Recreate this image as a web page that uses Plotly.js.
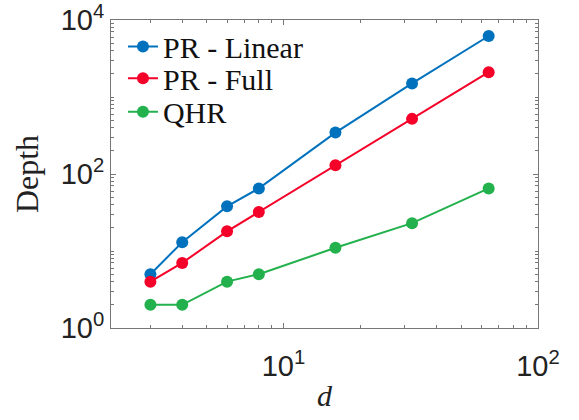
<!DOCTYPE html>
<html>
<head>
<meta charset="utf-8">
<script src="https://cdn.plot.ly/plotly-3.0.1.min.js"></script>
<style>html,body{margin:0;padding:0;background:#fff;} #chart{width:579px;height:420px;}</style>
</head>
<body>
<div id="chart"></div>
<script>
const dims = [3, 4, 6, 8, 16, 32, 64];
const prLinear = [5, 13, 38, 65, 345, 1500, 6200];
const prFull = [4, 7, 18, 32, 130, 520, 2100];
const qhr = [2, 2, 4, 5, 11, 23, 65];
const seriesNames = ['PR - Linear', 'PR - Full', 'QHR'];
const seriesColors = ['rgb(0,114,189)', 'rgb(245,0,40)', 'rgb(34,177,76)'];
const xTickVals = [10, 100];
const xTickText = ['10<sup>1</sup>', '10<sup>2</sup>'];
const yTickVals = [1, 100, 10000];
const yTickText = ['10<sup>0</sup>', '10<sup>2</sup>', '10<sup>4</sup>'];
const xMinor = [3, 4, 5, 6, 7, 8, 9, 20, 30, 40, 50, 60, 70, 80, 90];
const yMinor = [2,3,4,5,6,7,8,9,10,20,30,40,50,60,70,80,90,200,300,400,500,600,700,800,900,1000,2000,3000,4000,5000,6000,7000,8000,9000];

const serif = '"Liberation Serif", "Times New Roman", serif';
const sans = '"Liberation Sans", Arial, sans-serif';
const legendIds = ['legend', 'legend2', 'legend3'];
const legendRowY = [0.914, 0.811, 0.702];

const allY = [prLinear, prFull, qhr];
const traces = allY.map((ys, i) => ({
  x: dims, y: ys, name: seriesNames[i], type: 'scatter', mode: 'lines+markers',
  legend: legendIds[i],
  line: {color: seriesColors[i], width: 2},
  marker: {color: seriesColors[i], size: 12}
}));

const axisCommon = {
  type: 'log', showgrid: false, zeroline: false, showline: true, linecolor: '#777', linewidth: 1,
  mirror: 'ticks', ticks: 'inside', ticklen: 5, tickcolor: '#777', tickwidth: 1,
  ticklabeloverflow: 'allow',
  tickfont: {family: sans, size: 29, color: '#222'}
};

const layout = {
  width: 579, height: 420,
  margin: {l: 111, r: 41, t: 20, b: 92},
  paper_bgcolor: '#fff', plot_bgcolor: '#fff',
  showlegend: true,
  xaxis: Object.assign({}, axisCommon, {
    range: [Math.log10(2.1), 2], tickmode: 'array', tickvals: xTickVals, ticktext: xTickText,
    ticklabelstandoff: 12,
    minor: {tickmode: 'array', tickvals: xMinor, ticks: 'inside', ticklen: 3, tickcolor: '#777'},
    title: {text: 'd', font: {family: serif, size: 30, color: '#222', style: 'italic'}, standoff: 4}
  }),
  yaxis: Object.assign({}, axisCommon, {
    range: [0, 4], tickmode: 'array', tickvals: yTickVals, ticktext: yTickText,
    minor: {tickmode: 'array', tickvals: yMinor, ticks: 'inside', ticklen: 3, tickcolor: '#777'},
    title: {text: 'Depth', font: {family: serif, size: 32, color: '#222'}, standoff: 12}
  })
};
legendIds.forEach((id, i) => {
  layout[id] = {x: 0.028, y: legendRowY[i], xanchor: 'left', yanchor: 'middle', bgcolor: 'rgba(0,0,0,0)',
    font: {family: serif, size: 30, color: '#111'}};
});

Plotly.newPlot('chart', traces, layout, {displayModeBar: false, staticPlot: true});
</script>
</body>
</html>
